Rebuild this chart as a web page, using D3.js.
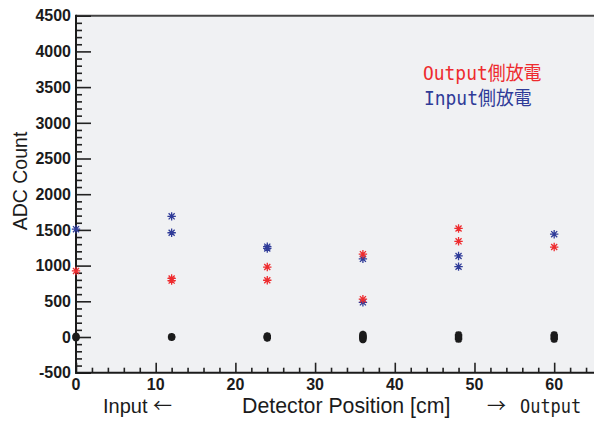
<!DOCTYPE html>
<html>
<head>
<meta charset="utf-8">
<script src="https://cdn.jsdelivr.net/npm/d3@7"></script>
<style>
  html, body { margin: 0; padding: 0; background: #ffffff; }
  svg { display: block; }
</style>
</head>
<body>
<svg id="chart" width="594" height="421"></svg>
<script>
// Detector positions [cm] and ADC counts per discharge side
const outputX   = [0, 12, 12, 24, 24, 36, 36, 48, 48, 60];
const outputADC = [925, 820, 790, 980, 795, 1160, 530, 1520, 1340, 1260];

const inputX    = [0, 12, 12, 24, 24, 36, 36, 48, 48, 60];
const inputADC  = [1510, 1690, 1460, 1265, 1240, 1095, 485, 1135, 985, 1440];

// Pedestal-level points near zero
const pedestalX   = [0, 0, 12, 12, 24, 24, 24, 36, 36, 36, 36, 36, 48, 48, 48, 60, 60, 60];
const pedestalADC = [-10, 10, -5, 5, -15, 0, 15, -35, -15, 0, 15, 35, -30, 0, 30, -30, 0, 30];

const xMajorTicks = [0, 10, 20, 30, 40, 50, 60];
const yMajorTicks = [-500, 0, 500, 1000, 1500, 2000, 2500, 3000, 3500, 4000, 4500];

const legendLabels = ["Output側放電", "Input側放電"];
const yAxisTitle = "ADC Count";
const xAxisTitle = "Detector Position [cm]";

const colors = { output: "#ee2b2e", input: "#2f3b98", pedestal: "#1b1b1b" };

const svg = d3.select("#chart");
const frameL = 76, frameT = 15.7, frameB = 372.7, frameR = 602;

const x = d3.scaleLinear().domain([0, 66]).range([frameL, frameR]);
const y = d3.scaleLinear().domain([-500, 4500]).range([frameB, frameT]);

// plot frame background
svg.append("rect")
  .attr("x", frameL).attr("y", frameT)
  .attr("width", frameR - frameL).attr("height", frameB - frameT)
  .attr("fill", "#f0f1f3");

// top border
svg.append("line")
  .attr("x1", frameL).attr("x2", frameR)
  .attr("y1", frameT).attr("y2", frameT)
  .attr("stroke", "#444").attr("stroke-width", 2);

const tickFont = "'Liberation Sans', Arial, sans-serif";

// y axis: major ticks with labels, minor ticks every 100
const yAxis = d3.axisRight(y)
  .tickValues(yMajorTicks)
  .tickSize(15)
  .tickFormat("");
const yMinor = d3.axisRight(y)
  .tickValues(d3.range(-500, 4501, 100).filter(v => v % 500 !== 0))
  .tickSize(6)
  .tickFormat("");

const gy = svg.append("g").attr("transform", `translate(${frameL},0)`).call(yAxis);
const gyMinor = svg.append("g").attr("transform", `translate(${frameL},0)`).call(yMinor);
[gy, gyMinor].forEach(g => {
  g.select(".domain").remove();
  g.selectAll(".tick line").attr("stroke", "#222").attr("stroke-width", 1.6);
});

svg.append("g").selectAll("text")
  .data(yMajorTicks).join("text")
  .attr("x", frameL - 5)
  .attr("y", d => y(d))
  .attr("dy", "0.36em")
  .attr("text-anchor", "end")
  .attr("font-family", tickFont)
  .attr("font-weight", "bold")
  .attr("font-size", 16)
  .attr("fill", "#1b1b1b")
  .text(d => d);

// x axis: major ticks every 10, minor every 2
const xAxis = d3.axisTop(x)
  .tickValues(xMajorTicks)
  .tickSize(10)
  .tickFormat("");
const xMinor = d3.axisTop(x)
  .tickValues(d3.range(0, 66, 2).filter(v => v % 10 !== 0))
  .tickSize(5)
  .tickFormat("");

const gx = svg.append("g").attr("transform", `translate(0,${frameB})`).call(xAxis);
const gxMinor = svg.append("g").attr("transform", `translate(0,${frameB})`).call(xMinor);
[gx, gxMinor].forEach(g => {
  g.select(".domain").remove();
  g.selectAll(".tick line").attr("stroke", "#222").attr("stroke-width", 1.6);
});

svg.append("g").selectAll("text")
  .data(xMajorTicks).join("text")
  .attr("x", d => x(d))
  .attr("y", 390)
  .attr("text-anchor", "middle")
  .attr("font-family", tickFont)
  .attr("font-weight", "bold")
  .attr("font-size", 16)
  .attr("fill", "#1b1b1b")
  .text(d => d);

// axis lines
svg.append("line")
  .attr("x1", frameL).attr("x2", frameL)
  .attr("y1", frameT - 1).attr("y2", frameB + 1)
  .attr("stroke", "#1b1b1b").attr("stroke-width", 2);
svg.append("line")
  .attr("x1", frameL - 1).attr("x2", frameR)
  .attr("y1", frameB).attr("y2", frameB)
  .attr("stroke", "#1b1b1b").attr("stroke-width", 2);

// star marker (+ and x combined)
function starPath(r) {
  const d = r * 0.72;
  return `M${-r},0L${r},0M0,${-r}L0,${r}M${-d},${-d}L${d},${d}M${-d},${d}L${d},${-d}`;
}

function drawSeries(xs, ys, color, r, w) {
  svg.append("g").selectAll("path")
    .data(xs.map((v, i) => [v, ys[i]]))
    .join("path")
    .attr("transform", d => `translate(${x(d[0])},${y(d[1])})`)
    .attr("d", starPath(r))
    .attr("fill", "none")
    .attr("stroke", color)
    .attr("stroke-width", w);
}

drawSeries(pedestalX, pedestalADC, colors.pedestal, 3.7, 2.4);
drawSeries(inputX, inputADC, colors.input, 4.2, 1.3);
drawSeries(outputX, outputADC, colors.output, 4.2, 1.3);

// legend (narrow monospace look)
const monoFont = "'DejaVu Sans Mono', 'Noto Sans CJK JP', monospace";
const cjkFont = "'Noto Sans CJK JP', sans-serif";
svg.append("text")
  .attr("transform", "translate(423,80) scale(0.92,1)")
  .attr("font-family", monoFont)
  .attr("font-size", 19.5)
  .attr("fill", colors.output)
  .text(legendLabels[0]);
svg.append("text")
  .attr("transform", "translate(424,105) scale(0.92,1)")
  .attr("font-family", monoFont)
  .attr("font-size", 19.5)
  .attr("fill", colors.input)
  .text(legendLabels[1]);

// axis titles
const titleFont = "'Liberation Sans', Arial, sans-serif";
svg.append("text")
  .attr("transform", "translate(27,181) rotate(-90)")
  .attr("text-anchor", "middle")
  .attr("font-family", titleFont)
  .attr("font-size", 19.5)
  .attr("fill", "#1b1b1b")
  .text(yAxisTitle);

const leftLabel = svg.append("text")
  .attr("x", 103).attr("y", 413)
  .attr("font-size", 20)
  .attr("fill", "#1b1b1b");
leftLabel.append("tspan").attr("font-family", titleFont).text("Input ");
leftLabel.append("tspan").attr("font-family", cjkFont).attr("font-size", 19).text("\u2190");

svg.append("text")
  .attr("x", 242).attr("y", 413)
  .attr("font-family", titleFont)
  .attr("font-size", 21.3)
  .attr("fill", "#1b1b1b")
  .text(xAxisTitle);

svg.append("text")
  .attr("x", 487).attr("y", 413)
  .attr("font-family", cjkFont)
  .attr("font-size", 19)
  .attr("fill", "#1b1b1b")
  .text("\u2192");
svg.append("text")
  .attr("transform", "translate(520,413) scale(0.87,1)")
  .attr("font-family", monoFont)
  .attr("font-size", 19.5)
  .attr("fill", "#1b1b1b")
  .text("Output");
</script>
</body>
</html>
